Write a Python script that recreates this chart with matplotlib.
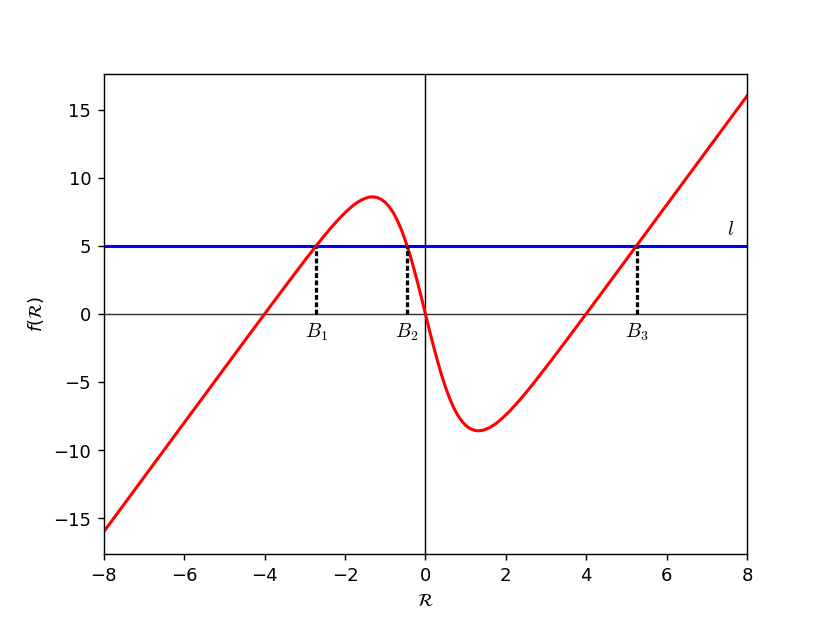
import matplotlib
matplotlib.use('Agg')
import matplotlib.pyplot as plt

# curve (right half; the curve is odd-symmetric)
r_pos = [0.0, 0.1, 0.2, 0.3, 0.4, 0.5, 0.6, 0.7, 0.8, 0.9, 1.0, 1.1, 1.2, 1.3, 1.4,
         1.5, 1.6, 1.7, 1.8, 1.9, 2.0, 2.1, 2.2, 2.3, 2.4, 2.5, 2.6, 2.7, 2.8, 2.9,
         3.0, 3.25, 3.5, 3.75, 4.0, 4.5, 5.0, 6.0, 7.0, 8.0]
f_pos = [0.0, -1.2, -2.36, -3.46, -4.48, -5.39, -6.19, -6.87, -7.43, -7.86, -8.19, -8.41,
         -8.54, -8.59, -8.57, -8.48, -8.35, -8.17, -7.95, -7.7, -7.42, -7.13, -6.81, -6.48,
         -6.14, -5.79, -5.42, -5.06, -4.68, -4.3, -3.92, -2.95, -1.97, -0.98, 0.01, 2.0,
         4.0, 8.0, 12.0, 16.0]
r_neg = [-r for r in r_pos[:0:-1]]
f_neg = [-f for f in f_pos[:0:-1]]
r_vals = r_neg + r_pos
f_vals = f_neg + f_pos

level = 5
b_points = [-2.72, -0.455, 5.25]
b_labels = [r'$B_1$', r'$B_2$', r'$B_3$']

fig, ax = plt.subplots(figsize=(6.4, 4.8), dpi=129.7)

ax.axhline(0, color='black', linewidth=0.8, alpha=0.8)
ax.axvline(0, color='black', linewidth=0.8)
ax.axhline(level, color='blue', linewidth=1.7)
ax.plot(r_vals, f_vals, color='red', linewidth=1.7)

for b, lab in zip(b_points, b_labels):
    ax.plot([b, b], [0, level], color='black', linestyle=(0, (1.5, 0.75)), linewidth=1.8)
    ax.text(b, -0.5, lab, ha='center', va='top', fontsize=11, math_fontfamily='cm')

ax.text(7.6, 5.5, r'$l$', ha='center', va='bottom', fontsize=11, math_fontfamily='cm')

ax.set_xlim(-8, 8)
ax.set_xlabel(r'$\mathcal{R}$')
ax.set_ylabel(r'$f(\mathcal{R})$')

plt.savefig('out.png', dpi=129.7)
